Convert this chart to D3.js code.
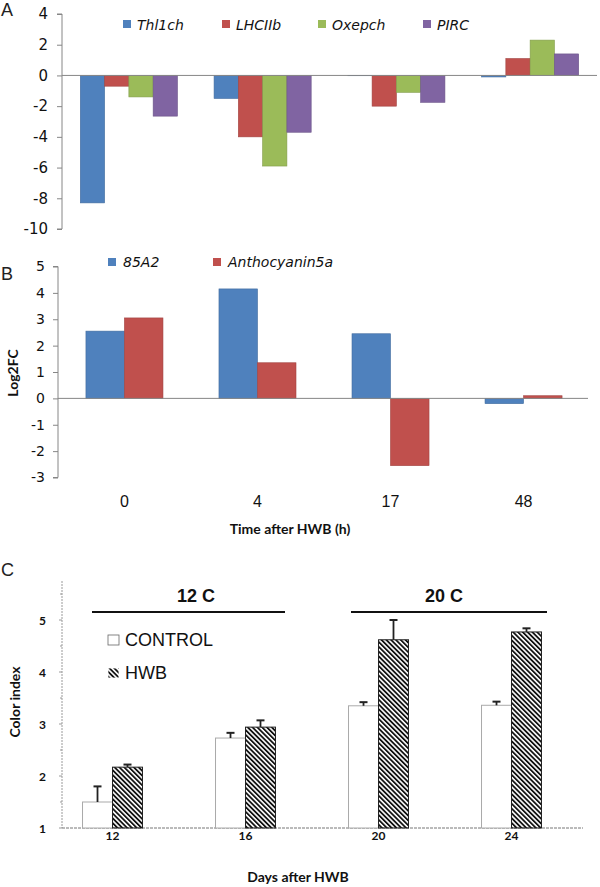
<!DOCTYPE html>
<html>
<head>
<meta charset="utf-8">
<script src="https://cdnjs.cloudflare.com/ajax/libs/d3/7.8.5/d3.min.js"></script>
<style>
  body { margin: 0; background: #fff; }
  svg { display: block; }
</style>
</head>
<body>
<svg id="chart" width="600" height="887"></svg>
<script>
// Panel A - light-related genes
const timesA = ["0", "4", "17", "48"];
const genesA = ["Thl1ch", "LHCIIb", "Oxepch", "PIRC"];
const thl1ch = [-8.3, -1.5, -0.02, -0.1];
const lhciib = [-0.7, -4.0, -2.0, 1.1];
const oxepch = [-1.4, -5.9, -1.1, 2.3];
const pirc = [-2.65, -3.7, -1.75, 1.4];
const ticksA = [4, 2, 0, -2, -4, -6, -8, -10];

// Panel B - anthocyanin genes
const timesB = ["0", "4", "17", "48"];
const genesB = ["85A2", "Anthocyanin5a"];
const a85 = [2.55, 4.15, 2.45, -0.2];
const antho = [3.05, 1.35, -2.55, 0.1];
const ticksB = [5, 4, 3, 2, 1, 0, -1, -2, -3];

// Panel C - color index
const days = ["12", "16", "20", "24"];
const treatments = ["CONTROL", "HWB"];
const controlVals = [1.5, 2.73, 3.35, 3.36];
const controlErr = [0.3, 0.1, 0.07, 0.07];
const hwbVals = [2.17, 2.94, 4.62, 4.77];
const hwbErr = [0.05, 0.13, 0.38, 0.07];
const ticksC = [1, 2, 3, 4, 5];
const tempGroups = [["12 C", "12", "16"], ["20 C", "20", "24"]];

const colors = { Thl1ch: "#4F81BD", LHCIIb: "#C0504D", Oxepch: "#9BBB59", PIRC: "#8064A2",
                 "85A2": "#4F81BD", Anthocyanin5a: "#C0504D" };
const axisGrey = "#868686";
const tickFont = "DejaVu Sans, Verdana, sans-serif";
const boldFont = "Lato, 'Open Sans', sans-serif";

const svg = d3.select("#chart");

// hatch pattern for HWB
const defs = svg.append("defs");
defs.append("pattern")
    .attr("id", "hatch")
    .attr("patternUnits", "userSpaceOnUse")
    .attr("width", 3.4).attr("height", 3.4)
    .attr("patternTransform", "rotate(-45)")
    .append("rect")
    .attr("x", 0).attr("y", 0).attr("width", 1.8).attr("height", 3.4)
    .attr("fill", "#111");

function panelLetter(t, x, y) {
    svg.append("text").attr("x", x).attr("y", y)
        .attr("font-family", "Liberation Sans, Arial, sans-serif")
        .attr("font-size", 18).attr("fill", "#222").text(t);
}

function darker(c) { return d3.color(c).darker(0.5).formatHex(); }

// ---------- Panel A ----------
(function () {
    const y = d3.scaleLinear().domain([-10, 4]).range([229, 14]);
    const x0 = d3.scaleBand().domain(timesA).range([62, 597]).paddingInner(0.274).paddingOuter(0.137);
    const x1 = d3.scaleBand().domain(genesA).range([0, x0.bandwidth()]);
    const series = { Thl1ch: thl1ch, LHCIIb: lhciib, Oxepch: oxepch, PIRC: pirc };
    const g = svg.append("g");

    const yAxis = d3.axisLeft(y).tickValues(ticksA).tickSize(5).tickPadding(9).tickFormat(d3.format("d"));
    const ax = g.append("g").attr("transform", "translate(62,0)").call(yAxis);
    ax.select(".domain").attr("stroke", axisGrey).attr("d", `M-5,${y(4)}H0V${y(-10)}H-5`);
    ax.selectAll(".tick line").attr("stroke", axisGrey);
    ax.selectAll(".tick text").attr("font-family", tickFont).attr("font-size", 15).attr("fill", "#111")
        .text(d => d < 0 ? "-" + Math.abs(d) : d);

    const data = [];
    timesA.forEach((t, i) => genesA.forEach(k => data.push({ t, k, v: series[k][i] })));
    g.selectAll("rect.bar").data(data).join("rect")
        .attr("x", d => x0(d.t) + x1(d.k))
        .attr("width", x1.bandwidth())
        .attr("y", d => y(Math.max(0, d.v)))
        .attr("height", d => Math.abs(y(d.v) - y(0)))
        .attr("fill", d => colors[d.k])
        .attr("stroke", d => darker(colors[d.k])).attr("stroke-width", 0.6);

    g.append("line").attr("x1", 62).attr("x2", 597).attr("y1", y(0)).attr("y2", y(0))
        .attr("stroke", axisGrey).attr("stroke-width", 1);

    const legX = [123, 222, 318, 423];
    const leg = g.selectAll("g.leg").data(genesA).join("g")
        .attr("transform", (d, i) => `translate(${legX[i]},20)`);
    leg.append("rect").attr("width", 8).attr("height", 8).attr("fill", d => colors[d]);
    leg.append("text").attr("x", 14).attr("y", 10)
        .attr("font-family", tickFont).attr("font-style", "italic").attr("font-size", 14)
        .attr("fill", "#111").text(d => d);
})();
panelLetter("A", 1, 16);

// ---------- Panel B ----------
(function () {
    const y = d3.scaleLinear().domain([-3, 5]).range([477.5, 266.5]);
    const x0 = d3.scaleBand().domain(timesB).range([58, 590]).paddingInner(0.421).paddingOuter(0.21);
    const x1 = d3.scaleBand().domain(genesB).range([0, x0.bandwidth()]);
    const series = { "85A2": a85, Anthocyanin5a: antho };
    const g = svg.append("g");

    const yAxis = d3.axisLeft(y).tickValues(ticksB).tickSize(5).tickPadding(8).tickFormat(d3.format("d"));
    const ax = g.append("g").attr("transform", "translate(58,0)").call(yAxis);
    ax.select(".domain").attr("stroke", axisGrey).attr("d", `M-5,${y(5)}H0V${y(-3)}H-5`);
    ax.selectAll(".tick line").attr("stroke", axisGrey);
    ax.selectAll(".tick text").attr("font-family", tickFont).attr("font-size", 14).attr("fill", "#111")
        .text(d => d < 0 ? "-" + Math.abs(d) : d);

    const data = [];
    timesB.forEach((t, i) => genesB.forEach(k => data.push({ t, k, v: series[k][i] })));
    g.selectAll("rect.bar").data(data).join("rect")
        .attr("x", d => x0(d.t) + x1(d.k))
        .attr("width", x1.bandwidth())
        .attr("y", d => y(Math.max(0, d.v)))
        .attr("height", d => Math.abs(y(d.v) - y(0)))
        .attr("fill", d => colors[d.k])
        .attr("stroke", d => darker(colors[d.k])).attr("stroke-width", 0.6);

    g.append("line").attr("x1", 58).attr("x2", 588).attr("y1", y(0)).attr("y2", y(0))
        .attr("stroke", axisGrey).attr("stroke-width", 1);

    g.selectAll("text.cat").data(timesB).join("text")
        .attr("x", d => x0(d) + x0.bandwidth() / 2).attr("y", 507)
        .attr("text-anchor", "middle")
        .attr("font-family", "Liberation Sans, Arial, sans-serif").attr("font-size", 16).attr("fill", "#111")
        .text(d => d);

    g.append("text").attr("x", 290).attr("y", 534).attr("text-anchor", "middle")
        .attr("font-family", boldFont).attr("font-weight", "bold").attr("font-size", 14).attr("fill", "#111")
        .text("Time after HWB (h)");
    g.append("text").attr("transform", "translate(18,373) rotate(-90)").attr("text-anchor", "middle")
        .attr("font-family", boldFont).attr("font-weight", "bold").attr("font-size", 14).attr("fill", "#111")
        .text("Log2FC");

    const legX = [108, 213];
    const leg = g.selectAll("g.leg").data(genesB).join("g")
        .attr("transform", (d, i) => `translate(${legX[i]},258)`);
    leg.append("rect").attr("width", 8).attr("height", 8).attr("fill", d => colors[d]);
    leg.append("text").attr("x", 15).attr("y", 9)
        .attr("font-family", tickFont).attr("font-style", "italic").attr("font-size", 14)
        .attr("fill", "#111").text(d => d);
})();
panelLetter("B", 1, 280);

// ---------- Panel C ----------
(function () {
    const y = d3.scaleLinear().domain([1, 5.75]).range([828, 581]);
    const x0 = d3.scaleBand().domain(days).range([46, 578]).paddingInner(0.549).paddingOuter(0.2745);
    const x1 = d3.scaleBand().domain(treatments).range([0, x0.bandwidth()]);
    const g = svg.append("g");
    const cGrey = "#9a9a9a";

    // axes (light grey, dotted look)
    g.append("line").attr("x1", 62).attr("x2", 62).attr("y1", y(5.75)).attr("y2", y(1))
        .attr("stroke", cGrey).attr("stroke-width", 1).attr("stroke-dasharray", "2,1");
    g.append("line").attr("x1", 62).attr("x2", 583).attr("y1", y(1)).attr("y2", y(1))
        .attr("stroke", "#777").attr("stroke-width", 1).attr("stroke-dasharray", "3,1");
    const minor = d3.range(1.5, 5.75, 1);
    g.selectAll("line.minor").data(minor).join("line")
        .attr("x1", 60).attr("x2", 62).attr("y1", d => y(d)).attr("y2", d => y(d))
        .attr("stroke", cGrey);
    g.selectAll("line.major").data(ticksC).join("line")
        .attr("x1", 59).attr("x2", 62).attr("y1", d => y(d)).attr("y2", d => y(d))
        .attr("stroke", cGrey);
    g.selectAll("text.ytick").data(ticksC).join("text")
        .attr("x", 46).attr("y", d => y(d) + 4.5).attr("text-anchor", "end")
        .attr("font-family", boldFont).attr("font-weight", "bold").attr("font-size", 12).attr("fill", "#111")
        .text(d => d);

    const data = [];
    days.forEach((d, i) => {
        data.push({ d, k: "CONTROL", v: controlVals[i], e: controlErr[i] });
        data.push({ d, k: "HWB", v: hwbVals[i], e: hwbErr[i] });
    });
    g.selectAll("rect.bar").data(data).join("rect")
        .attr("x", d => x0(d.d) + x1(d.k))
        .attr("width", x1.bandwidth())
        .attr("y", d => y(d.v))
        .attr("height", d => y(1) - y(d.v))
        .attr("fill", d => d.k === "HWB" ? "url(#hatch)" : "#fff")
        .attr("stroke", d => d.k === "HWB" ? "#222" : "#aaa")
        .attr("stroke-width", 1);

    // error bars (upper only)
    const eb = g.selectAll("g.err").data(data).join("g")
        .attr("transform", d => `translate(${x0(d.d) + x1(d.k) + x1.bandwidth() / 2},0)`);
    eb.append("line").attr("y1", d => y(d.v)).attr("y2", d => y(d.v + d.e))
        .attr("stroke", "#222").attr("stroke-width", 1.8);
    eb.append("line").attr("x1", -4).attr("x2", 4).attr("y1", d => y(d.v + d.e)).attr("y2", d => y(d.v + d.e))
        .attr("stroke", "#222").attr("stroke-width", 2);

    g.selectAll("text.cat").data(days).join("text")
        .attr("x", d => x0(d) + x0.bandwidth() / 2).attr("y", 840)
        .attr("text-anchor", "middle")
        .attr("font-family", boldFont).attr("font-weight", "bold").attr("font-size", 12).attr("fill", "#111")
        .text(d => d);

    // temperature headers
    const lineSpan = { "12 C": [92, 285], "20 C": [351, 547] };
    const txtX = { "12 C": 196, "20 C": 444 };
    tempGroups.forEach(([lab]) => {
        g.append("line").attr("x1", lineSpan[lab][0]).attr("x2", lineSpan[lab][1])
            .attr("y1", 612).attr("y2", 612).attr("stroke", "#111").attr("stroke-width", 2);
        g.append("text").attr("x", txtX[lab]).attr("y", 602).attr("text-anchor", "middle")
            .attr("font-family", "Liberation Sans, Arial, sans-serif").attr("font-weight", "bold")
            .attr("font-size", 18).attr("fill", "#111").text(lab);
    });

    // legend
    const leg = g.selectAll("g.leg").data(treatments).join("g")
        .attr("transform", (d, i) => `translate(108,${635 + i * 33})`);
    leg.append("rect").attr("width", 11).attr("height", 10)
        .attr("fill", d => d === "HWB" ? "url(#hatch)" : "#fff")
        .attr("stroke", d => d === "HWB" ? "#fff" : "#666").attr("stroke-width", 0.8);
    leg.append("text").attr("x", 17).attr("y", 11)
        .attr("font-family", "Liberation Sans, Arial, sans-serif").attr("font-size", 18).attr("fill", "#111")
        .text(d => d);

    g.append("text").attr("transform", "translate(20,702) rotate(-90)").attr("text-anchor", "middle")
        .attr("font-family", boldFont).attr("font-weight", "bold").attr("font-size", 14).attr("fill", "#111")
        .text("Color index");
    g.append("text").attr("x", 298).attr("y", 882).attr("text-anchor", "middle")
        .attr("font-family", boldFont).attr("font-weight", "bold").attr("font-size", 14).attr("fill", "#111")
        .text("Days after HWB");
})();
panelLetter("C", 1, 576);
</script>
</body>
</html>
